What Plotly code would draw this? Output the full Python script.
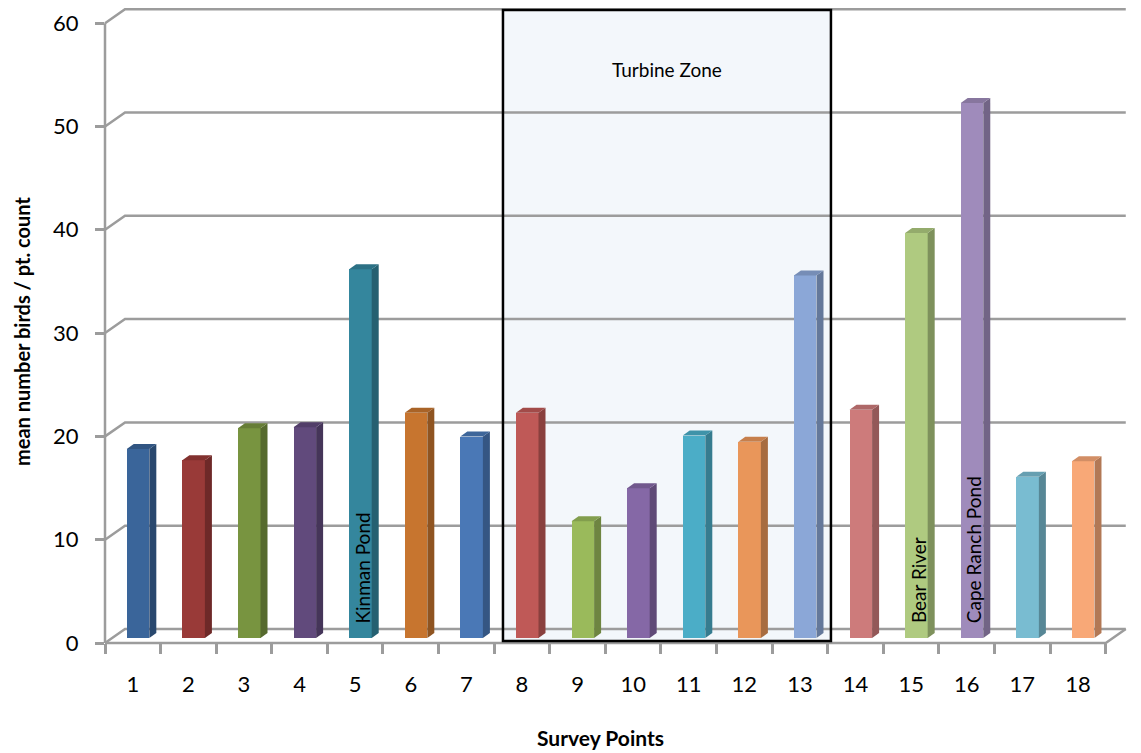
import plotly.graph_objects as go

# ---------------- data ----------------
points = [str(i) for i in range(1, 19)]
point_x = list(range(1, 19))
mean_birds = [18.3, 17.2, 20.3, 20.4, 35.7, 21.8, 19.5, 21.8, 11.3, 14.5,
              19.6, 19.0, 35.1, 22.1, 39.2, 51.8, 15.6, 17.1]
front_colors = ["#3a659a", "#993a38", "#789440", "#614a7c", "#34869d", "#c7752f",
                "#4a78b6", "#bf5957", "#9aba5b", "#8568a6", "#4badc7", "#e9965a",
                "#8ba7d7", "#cd7b7b", "#afca80", "#9f8bbb", "#79bcd1", "#f8a877"]
site_names = {5: "Kinman Pond", 15: "Bear River", 16: "Cape Ranch Pond"}
turbine_first, turbine_last = 8, 13
y_ticks = [0, 10, 20, 30, 40, 50, 60]

FONT = "Lato"
GRID = "#9c9c9c"


def shade(hexc, f):
    h = hexc.lstrip("#")
    r, g, b = (int(h[i:i + 2], 16) for i in (0, 2, 4))
    return "#%02x%02x%02x" % (int(r * f), int(g * f), int(b * f))


# ---------------- layout geometry ----------------
W, H = 1133, 745            # page body has an 8px margin
ML, MR, MT, MB = 97, 13, 0, 110
PW, PH = W - ML - MR, H - MT - MB

x_rng = [0.5, 18.9]
y_rng = [0.0, 61.47]
y2_rng = [-0.484, 60.986]
wall_dx, wall_dy = 0.36, 1.355      # depth of back wall
bar_shift, bar_w = 0.094, 0.406
bar_dx, bar_dy = 0.126, 0.484       # depth of bars


def xp(x):
    return (x - x_rng[0]) / (x_rng[1] - x_rng[0])


def yp(v):
    return (v - y_rng[0]) / (y_rng[1] - y_rng[0])


fig = go.Figure()

fig.add_trace(go.Bar(
    x=point_x, y=mean_birds, yaxis="y2",
    width=bar_w, offset=bar_shift - bar_w / 2,
    marker=dict(color=front_colors, line=dict(width=0)),
    hoverinfo="x+y", showlegend=False,
))

shapes = []
# turbine zone fill (below)
tz_x0 = turbine_first - 0.342
tz_x1 = turbine_last + 0.557
tz_y0, tz_y1 = 0.19, 61.28
shapes.append(dict(type="rect", xref="paper", yref="paper",
                   x0=xp(tz_x0), x1=xp(tz_x1), y0=yp(tz_y0), y1=yp(tz_y1),
                   fillcolor="#f3f7fb", line=dict(width=0), layer="below"))

# back wall gridlines with perspective diagonal
for v in y_ticks:
    path = "M %f %f L %f %f L %f %f" % (
        xp(0.5), yp(v), xp(0.5 + wall_dx), yp(v + wall_dy),
        xp(18.5 + wall_dx), yp(v + wall_dy))
    shapes.append(dict(type="path", xref="paper", yref="paper", path=path,
                       line=dict(color=GRID, width=2.5), layer="below"))
# floor front edge and right diagonal
shapes.append(dict(type="path", xref="paper", yref="paper",
                   path="M %f %f L %f %f L %f %f" % (
                       xp(0.5), yp(0), xp(18.5), yp(0),
                       xp(18.5 + wall_dx), yp(wall_dy)),
                   line=dict(color=GRID, width=2.5), layer="below"))
# left vertical axis line
shapes.append(dict(type="line", xref="paper", yref="paper",
                   x0=xp(0.5), x1=xp(0.5), y0=yp(0), y1=yp(60),
                   line=dict(color=GRID, width=2.5), layer="below"))

# bar side + top faces
for xi, v, c in zip(point_x, mean_birds, front_colors):
    xl = xi + bar_shift - bar_w / 2
    xr = xi + bar_shift + bar_w / 2
    side = "M %f %f L %f %f L %f %f L %f %f Z" % (
        xr, 0, xr, v, xr + bar_dx, v + bar_dy, xr + bar_dx, bar_dy)
    top = "M %f %f L %f %f L %f %f L %f %f Z" % (
        xl, v, xr, v, xr + bar_dx, v + bar_dy, xl + bar_dx, v + bar_dy)
    shapes.append(dict(type="path", xref="x", yref="y2", path=side,
                       fillcolor=shade(c, 0.72), line=dict(width=0), layer="above"))
    shapes.append(dict(type="path", xref="x", yref="y2", path=top,
                       fillcolor=shade(c, 0.85), line=dict(width=0), layer="above"))

# turbine zone border
shapes.append(dict(type="rect", xref="paper", yref="paper",
                   x0=xp(tz_x0), x1=xp(tz_x1), y0=yp(tz_y0), y1=yp(tz_y1),
                   fillcolor="rgba(0,0,0,0)",
                   line=dict(color="black", width=2.5), layer="above"))

annotations = []
annotations.append(dict(x=(tz_x0 + tz_x1) / 2, y=55.5, xref="x", yref="y",
                        xanchor="center", yanchor="middle",
                        text="Turbine Zone", showarrow=False,
                        font=dict(family=FONT, size=19, color="black")))
for p, name in site_names.items():
    annotations.append(dict(x=p + bar_shift + 0.04, y=1.7, xref="x", yref="y",
                            text=name, textangle=-90, showarrow=False,
                            xanchor="center", yanchor="bottom",
                            font=dict(family=FONT, size=19, color="black")))
# axis titles (page px -> figure px: minus 8)
annotations.append(dict(x=(600 - 8 - ML) / PW, y=(PH - (737 - 8 - MT)) / PH,
                        xref="paper", yref="paper", xanchor="center", yanchor="middle",
                        text="<b>Survey Points</b>", showarrow=False,
                        font=dict(family=FONT, size=21, color="black")))
annotations.append(dict(x=(22 - 8 - ML) / PW, y=(PH - (332 - 8 - MT)) / PH,
                        xref="paper", yref="paper", xanchor="center", yanchor="middle",
                        text="<b>mean number birds / pt. count</b>", textangle=-90,
                        showarrow=False,
                        font=dict(family=FONT, size=20, color="black")))

fig.update_layout(
    width=W, height=H,
    margin=dict(l=ML, r=MR, t=MT, b=MB, autoexpand=False),
    paper_bgcolor="white", plot_bgcolor="white",
    bargap=0,
    shapes=shapes, annotations=annotations,
    xaxis=dict(range=x_rng, tickmode="array", tickvals=point_x, ticktext=points,
               ticks="", showgrid=False, zeroline=False, showline=False,
               automargin=False,
               tickfont=dict(family=FONT, size=22, color="black"),
               ticklabelstandoff=26,
               minor=dict(tickmode="array", tickvals=[i + 0.5 for i in range(19)],
                          ticks="outside", ticklen=10, tickwidth=2.5,
                          tickcolor=GRID, showgrid=False)),
    yaxis=dict(range=y_rng, tickmode="array", tickvals=y_ticks,
               ticks="outside", ticklen=9, tickwidth=2.5, tickcolor=GRID,
               showgrid=False, zeroline=False, showline=False,
               automargin=False,
               tickfont=dict(family=FONT, size=22, color="black"),
               ticklabelstandoff=12),
    yaxis2=dict(range=y2_rng, overlaying="y", visible=False, showgrid=False,
                zeroline=False, automargin=False),
)

fig.write_html("out.html")
